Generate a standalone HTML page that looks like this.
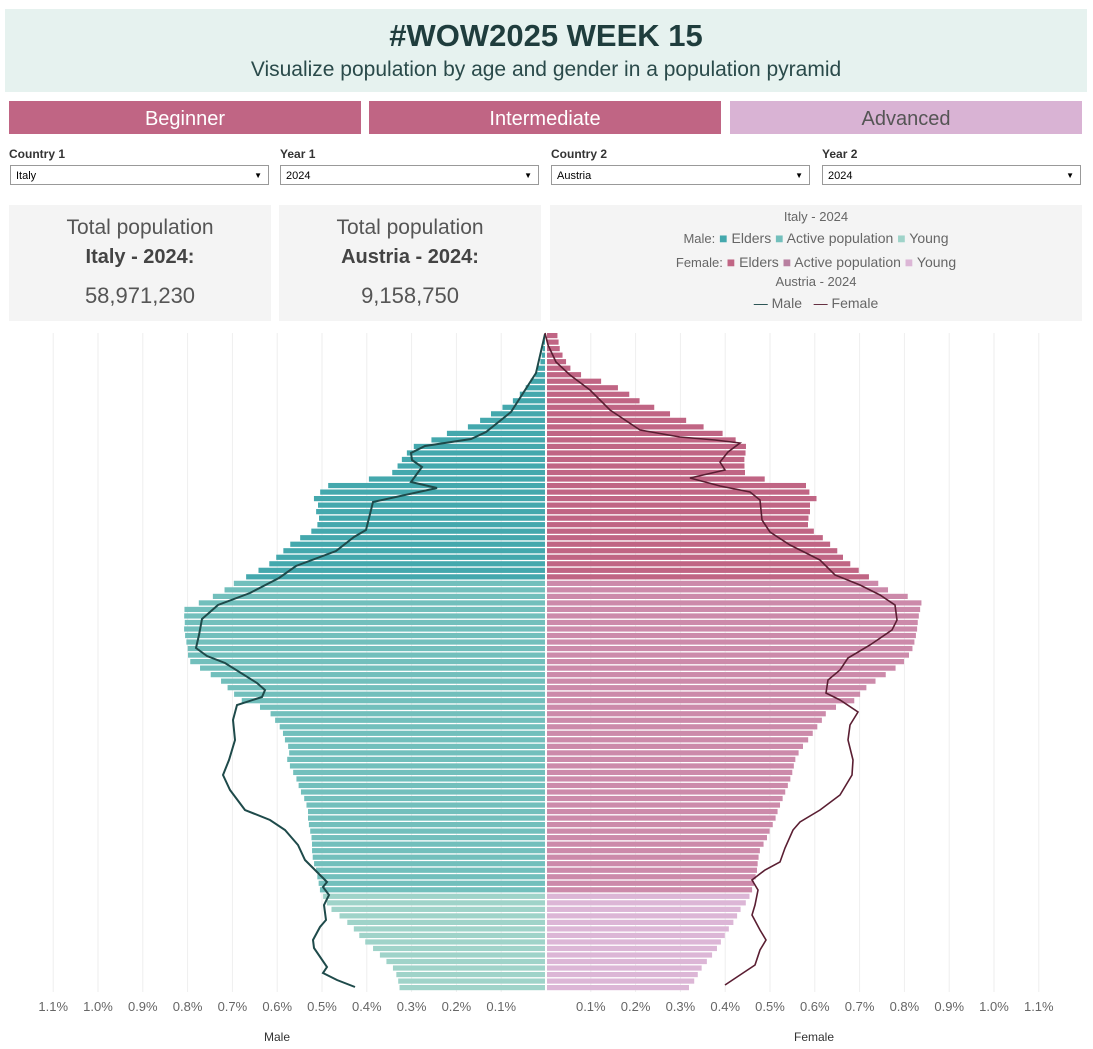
<!DOCTYPE html>
<html><head><meta charset="utf-8"><style>
body{margin:0;width:1093px;height:1049px;background:#fff;font-family:"Liberation Sans",sans-serif;position:relative;overflow:hidden}
.a{position:absolute}
.hdr{left:5px;top:9px;width:1082px;height:83px;background:#e6f2ef;text-align:center}
.btn{top:101px;height:33px;width:352px;color:#fff;font-size:20px;text-align:center;line-height:36px}
.lbl{font-size:12px;font-weight:bold;color:#333;top:147px}
.dd{top:165px;height:20px;width:256px;border:1px solid #999;font-size:11px;line-height:20px;padding-left:5px;box-sizing:border-box;width:259px}
.dd:after{content:"▼";position:absolute;right:6px;font-size:8px}
.card{top:205px;height:116px;background:#f4f4f4;text-align:center;color:#555}
</style></head><body>
<div class="a hdr"><div style="font-size:31px;font-weight:bold;color:#1f3d3d;margin-top:9px">#WOW2025 WEEK 15</div><div style="font-size:21px;color:#2a4a4a;margin-top:4px">Visualize population by age and gender in a population pyramid</div></div>
<div class="a btn" style="left:9px;background:#c06584">Beginner</div>
<div class="a btn" style="left:369px;background:#c06584">Intermediate</div>
<div class="a btn" style="left:730px;background:#d9b3d4;color:#555">Advanced</div>
<div class="a lbl" style="left:9px">Country 1</div><div class="a lbl" style="left:280px">Year 1</div><div class="a lbl" style="left:551px">Country 2</div><div class="a lbl" style="left:822px">Year 2</div>
<div class="a dd" style="left:10px">Italy</div><div class="a dd" style="left:280px">2024</div><div class="a dd" style="left:551px">Austria</div><div class="a dd" style="left:822px">2024</div>
<div class="a card" style="left:9px;width:262px"><div style="font-size:21px;margin-top:11px">Total population</div><div style="font-size:20px;font-weight:bold;color:#444;margin-top:6px">Italy - 2024:</div><div style="font-size:22px;margin-top:14px">58,971,230</div></div>
<div class="a card" style="left:279px;width:262px"><div style="font-size:21px;margin-top:11px">Total population</div><div style="font-size:20px;font-weight:bold;color:#444;margin-top:6px">Austria - 2024:</div><div style="font-size:22px;margin-top:14px">9,158,750</div></div>
<div class="a card" style="left:550px;width:532px;font-size:14px;color:#666">
<div style="margin-top:4px;font-size:13px">Italy - 2024</div>
<div style="margin-top:6px"><b style="font-weight:normal;font-size:13px">Male:</b> <span style="color:#44a8ad">■</span> Elders <span style="color:#72bfbc">■</span> Active population <span style="color:#9fd3c9">■</span> Young</div>
<div style="margin-top:8px"><span style="font-size:13px">Female:</span> <span style="color:#c06584">■</span> Elders <span style="color:#b87fa0">■</span> Active population <span style="color:#dcb6d6">■</span> Young</div>
<div style="margin-top:4px;font-size:13px">Austria - 2024</div>
<div style="margin-top:6px"><span style="color:#1e4a4a">—</span> Male &nbsp; <span style="color:#5a1e32">—</span> Female</div></div>
<svg class="a" style="left:0;top:0" width="1093" height="1049" id="s"></svg>
<script>
var M=[[333,545],[340,544],[360,541],[375,535],[385,528],[392,522],[400,514],[410,498],[418,483],[425,474],[432,450],[440,431],[447,412],[455,405],[462,400],[470,395],[477,387],[483,331],[490,323],[497,313],[505,318],[512,316],[520,320],[527,316],[534,308],[540,295],[547,287],[553,281],[560,273],[567,266],[573,252],[580,241],[585,230],[592,222],[600,205],[610,183],[620,185],[630,184],[640,186],[650,188],[660,188],[670,203],[680,220],[690,230],[700,240],[710,268],[720,275],[730,282],[740,285],[750,290],[760,287],[770,292],[780,297],[790,300],[800,305],[810,308],[820,308],[830,310],[840,312],[850,312],[860,313],[870,316],[880,318],[890,320],[900,325],[910,332],[920,345],[930,355],[940,363],[950,375],[960,385],[970,395],[980,398],[990,400]];
var F=[[333,557],[350,560],[360,565],[372,573],[385,613],[392,626],[400,638],[408,656],[417,678],[425,698],[432,720],[440,736],[447,747],[455,745],[462,744],[470,745],[477,745],[483,806],[490,806],[497,818],[505,810],[512,810],[520,808],[527,808],[534,818],[540,826],[547,833],[553,840],[560,845],[567,855],[573,862],[580,875],[587,882],[593,895],[600,922],[610,920],[620,918],[630,917],[640,915],[650,912],[660,906],[670,893],[680,877],[690,863],[700,856],[710,828],[720,822],[730,815],[740,808],[750,800],[760,795],[770,793],[780,790],[790,786],[800,782],[810,778],[820,775],[830,770],[840,766],[850,760],[860,758],[870,757],[880,755],[890,752],[900,748],[910,740],[920,735],[930,728],[940,722],[950,716],[960,708],[970,700],[980,695],[990,687]];
function it(a,y){for(var i=1;i<a.length;i++)if(y<=a[i][0]){var p=a[i-1],q=a[i],t=(y-p[0])/(q[0]-p[0]);return p[1]+t*(q[1]-p[1]);}return a[a.length-1][1];}
var h='';
for(var k=0;k<12;k++){var x=546-44.8*k;if(k>0)h+='<line x1="'+x+'" y1="333" x2="'+x+'" y2="992" stroke="#eee"/>';var x2=546+44.8*k;if(k>0)h+='<line x1="'+x2+'" y1="333" x2="'+x2+'" y2="992" stroke="#eee"/>';
if(k>0){h+='<text x="'+x+'" y="1011" text-anchor="middle" font-size="13" fill="#666">'+(k/10).toFixed(1)+'%</text><text x="'+x2+'" y="1011" text-anchor="middle" font-size="13" fill="#666">'+(k/10).toFixed(1)+'%</text>';}}
for(var r=0;r<101;r++){var y=333+r*6.52;var yc=y+2.5;var m=it(M,yc),f=it(F,yc);
var cm=yc<580?'#44a8ad':(yc<893?'#72bfbc':'#9fd3c9');var cf=yc<580?'#c06584':(yc<893?'#cc8aaa':'#dcb6d6');
h+='<rect x="'+m+'" y="'+y+'" width="'+(545-m)+'" height="5.2" fill="'+cm+'"/><rect x="547" y="'+y+'" width="'+(f-547)+'" height="5.2" fill="'+cf+'"/>';}
var ml=[[545,334],[536,373],[511,412],[486,432],[471,439],[425,446],[411,453],[412,460],[422,467],[411,482],[437,488],[373,502],[366,530],[354,537],[336,551],[296,566],[279,578],[250,593],[218,605],[202,619],[199,635],[196,648],[207,656],[225,663],[257,683],[265,690],[262,697],[237,705],[233,720],[235,740],[229,760],[223,775],[230,790],[245,810],[270,820],[285,830],[298,845],[305,860],[318,873],[327,882],[323,887],[329,895],[324,905],[326,920],[320,927],[313,940],[314,948],[327,967],[323,973],[337,980],[355,987]];
var fl=[[545,333],[548,345],[556,362],[570,375],[590,390],[610,410],[640,430],[680,437],[715,440],[740,443],[728,452],[720,462],[725,470],[690,478],[720,486],[750,492],[760,500],[762,520],[770,532],[790,545],[810,555],[820,560],[835,575],[860,585],[880,595],[895,605],[897,620],[892,630],[870,645],[848,658],[840,670],[828,680],[826,693],[840,700],[858,712],[850,725],[848,740],[853,760],[852,775],[840,795],[820,810],[800,822],[793,830],[785,848],[780,862],[765,870],[752,880],[758,890],[755,905],[752,915],[760,930],[766,940],[760,950],[755,965],[740,975],[725,985]];
h+='<polyline fill="none" stroke="#1e4a4a" stroke-width="2" points="'+ml.join(' ')+'"/><polyline fill="none" stroke="#5a1e32" stroke-width="1.6" points="'+fl.join(' ')+'"/>';
h+='<text x="277" y="1041" text-anchor="middle" font-size="12" fill="#333">Male</text><text x="814" y="1041" text-anchor="middle" font-size="12" fill="#333">Female</text>';
document.getElementById('s').innerHTML=h;
</script>
</body></html>
